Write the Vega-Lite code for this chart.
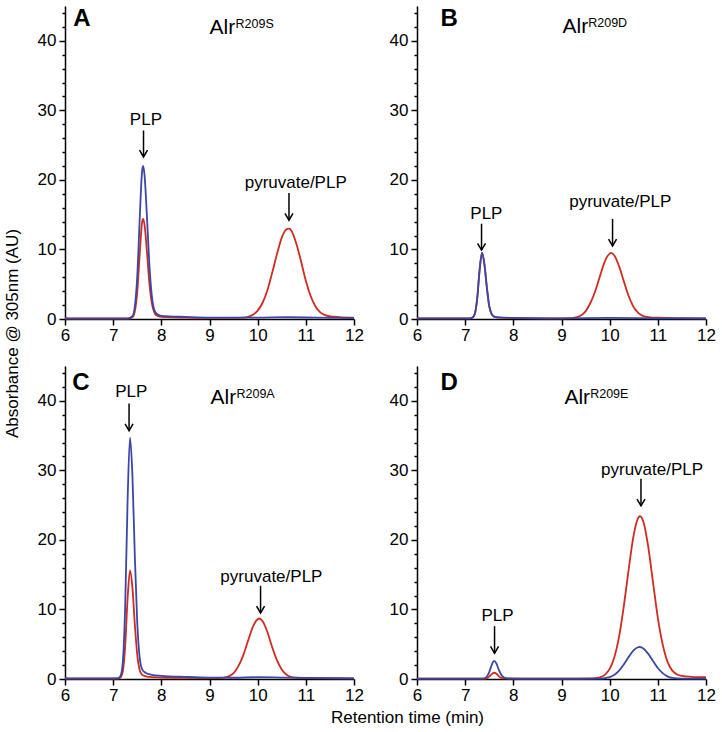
{
  "$schema": "https://vega.github.io/schema/vega-lite/v6.json",
  "background": "white",
  "padding": {"left": 3, "top": 3, "right": 5, "bottom": 5},
  "columns": 2,
  "spacing": {"row": 47, "column": 63},
  "bounds": "flush",
  "data": {"values": [
    {"p":"A","k":"r","t":6.0,"v":0.05},{"p":"A","k":"r","t":7.0,"v":0.05},{"p":"A","k":"r","t":7.3,"v":0.05},{"p":"A","k":"r","t":7.4,"v":0.25},{"p":"A","k":"r","t":7.45,"v":1.1},{"p":"A","k":"r","t":7.5,"v":3.9},{"p":"A","k":"r","t":7.55,"v":9.2},{"p":"A","k":"r","t":7.6,"v":13.9},{"p":"A","k":"r","t":7.62,"v":14.4},{"p":"A","k":"r","t":7.65,"v":13.6},{"p":"A","k":"r","t":7.7,"v":9.8},{"p":"A","k":"r","t":7.75,"v":5.3},{"p":"A","k":"r","t":7.8,"v":2.4},{"p":"A","k":"r","t":7.85,"v":1.0},{"p":"A","k":"r","t":7.9,"v":0.5},{"p":"A","k":"r","t":8.0,"v":0.3},{"p":"A","k":"r","t":8.5,"v":0.2},{"p":"A","k":"r","t":9.0,"v":0.15},{"p":"A","k":"r","t":9.5,"v":0.15},{"p":"A","k":"r","t":9.7,"v":0.2},{"p":"A","k":"r","t":9.8,"v":0.3},{"p":"A","k":"r","t":9.9,"v":0.6},{"p":"A","k":"r","t":10.0,"v":1.2},{"p":"A","k":"r","t":10.1,"v":2.3},{"p":"A","k":"r","t":10.2,"v":4.1},{"p":"A","k":"r","t":10.3,"v":6.6},{"p":"A","k":"r","t":10.4,"v":9.3},{"p":"A","k":"r","t":10.5,"v":11.7},{"p":"A","k":"r","t":10.6,"v":12.9},{"p":"A","k":"r","t":10.65,"v":13.0},{"p":"A","k":"r","t":10.7,"v":12.7},{"p":"A","k":"r","t":10.8,"v":10.9},{"p":"A","k":"r","t":10.9,"v":8.3},{"p":"A","k":"r","t":11.0,"v":5.5},{"p":"A","k":"r","t":11.1,"v":3.3},{"p":"A","k":"r","t":11.2,"v":1.8},{"p":"A","k":"r","t":11.3,"v":0.95},{"p":"A","k":"r","t":11.4,"v":0.55},{"p":"A","k":"r","t":11.5,"v":0.38},{"p":"A","k":"r","t":11.7,"v":0.27},{"p":"A","k":"r","t":12.0,"v":0.2},
    {"p":"A","k":"b","t":6.0,"v":0.1},{"p":"A","k":"b","t":7.0,"v":0.1},{"p":"A","k":"b","t":7.3,"v":0.1},{"p":"A","k":"b","t":7.4,"v":0.4},{"p":"A","k":"b","t":7.45,"v":1.8},{"p":"A","k":"b","t":7.5,"v":6.1},{"p":"A","k":"b","t":7.55,"v":14.2},{"p":"A","k":"b","t":7.6,"v":21.2},{"p":"A","k":"b","t":7.62,"v":22.0},{"p":"A","k":"b","t":7.65,"v":20.8},{"p":"A","k":"b","t":7.7,"v":14.9},{"p":"A","k":"b","t":7.75,"v":8.0},{"p":"A","k":"b","t":7.8,"v":3.5},{"p":"A","k":"b","t":7.85,"v":1.4},{"p":"A","k":"b","t":7.9,"v":0.75},{"p":"A","k":"b","t":8.0,"v":0.45},{"p":"A","k":"b","t":8.5,"v":0.3},{"p":"A","k":"b","t":9.0,"v":0.2},{"p":"A","k":"b","t":10.0,"v":0.2},{"p":"A","k":"b","t":10.6,"v":0.25},{"p":"A","k":"b","t":11.2,"v":0.2},{"p":"A","k":"b","t":12.0,"v":0.12},
    {"p":"B","k":"r","t":6.0,"v":0.1},{"p":"B","k":"r","t":7.0,"v":0.1},{"p":"B","k":"r","t":7.1,"v":0.1},{"p":"B","k":"r","t":7.15,"v":0.2},{"p":"B","k":"r","t":7.2,"v":0.7},{"p":"B","k":"r","t":7.25,"v":2.9},{"p":"B","k":"r","t":7.3,"v":7.0},{"p":"B","k":"r","t":7.35,"v":9.5},{"p":"B","k":"r","t":7.4,"v":7.8},{"p":"B","k":"r","t":7.45,"v":4.5},{"p":"B","k":"r","t":7.5,"v":1.8},{"p":"B","k":"r","t":7.55,"v":0.7},{"p":"B","k":"r","t":7.6,"v":0.35},{"p":"B","k":"r","t":7.7,"v":0.2},{"p":"B","k":"r","t":8.0,"v":0.12},{"p":"B","k":"r","t":9.0,"v":0.1},{"p":"B","k":"r","t":9.2,"v":0.12},{"p":"B","k":"r","t":9.3,"v":0.23},{"p":"B","k":"r","t":9.4,"v":0.5},{"p":"B","k":"r","t":9.5,"v":1.1},{"p":"B","k":"r","t":9.6,"v":2.3},{"p":"B","k":"r","t":9.7,"v":4.0},{"p":"B","k":"r","t":9.8,"v":6.2},{"p":"B","k":"r","t":9.9,"v":8.3},{"p":"B","k":"r","t":10.0,"v":9.4},{"p":"B","k":"r","t":10.03,"v":9.5},{"p":"B","k":"r","t":10.1,"v":9.1},{"p":"B","k":"r","t":10.2,"v":7.5},{"p":"B","k":"r","t":10.3,"v":5.3},{"p":"B","k":"r","t":10.4,"v":3.2},{"p":"B","k":"r","t":10.5,"v":1.7},{"p":"B","k":"r","t":10.6,"v":0.85},{"p":"B","k":"r","t":10.7,"v":0.42},{"p":"B","k":"r","t":10.8,"v":0.28},{"p":"B","k":"r","t":11.0,"v":0.18},{"p":"B","k":"r","t":11.5,"v":0.12},{"p":"B","k":"r","t":12.0,"v":0.1},
    {"p":"B","k":"b","t":6.0,"v":0.08},{"p":"B","k":"b","t":7.0,"v":0.08},{"p":"B","k":"b","t":7.1,"v":0.1},{"p":"B","k":"b","t":7.15,"v":0.2},{"p":"B","k":"b","t":7.2,"v":0.75},{"p":"B","k":"b","t":7.25,"v":3.0},{"p":"B","k":"b","t":7.3,"v":7.1},{"p":"B","k":"b","t":7.35,"v":9.5},{"p":"B","k":"b","t":7.4,"v":7.9},{"p":"B","k":"b","t":7.45,"v":4.6},{"p":"B","k":"b","t":7.5,"v":1.9},{"p":"B","k":"b","t":7.55,"v":0.7},{"p":"B","k":"b","t":7.6,"v":0.35},{"p":"B","k":"b","t":7.7,"v":0.22},{"p":"B","k":"b","t":8.0,"v":0.15},{"p":"B","k":"b","t":9.0,"v":0.1},{"p":"B","k":"b","t":10.0,"v":0.15},{"p":"B","k":"b","t":11.0,"v":0.1},{"p":"B","k":"b","t":12.0,"v":0.08},
    {"p":"C","k":"r","t":6.0,"v":0.05},{"p":"C","k":"r","t":7.0,"v":0.05},{"p":"C","k":"r","t":7.1,"v":0.05},{"p":"C","k":"r","t":7.15,"v":0.2},{"p":"C","k":"r","t":7.2,"v":1.1},{"p":"C","k":"r","t":7.25,"v":4.8},{"p":"C","k":"r","t":7.3,"v":11.6},{"p":"C","k":"r","t":7.35,"v":15.6},{"p":"C","k":"r","t":7.4,"v":13.1},{"p":"C","k":"r","t":7.45,"v":7.8},{"p":"C","k":"r","t":7.5,"v":3.5},{"p":"C","k":"r","t":7.55,"v":1.3},{"p":"C","k":"r","t":7.6,"v":0.6},{"p":"C","k":"r","t":7.65,"v":0.45},{"p":"C","k":"r","t":7.7,"v":0.35},{"p":"C","k":"r","t":7.8,"v":0.28},{"p":"C","k":"r","t":8.0,"v":0.2},{"p":"C","k":"r","t":8.5,"v":0.15},{"p":"C","k":"r","t":9.0,"v":0.12},{"p":"C","k":"r","t":9.2,"v":0.12},{"p":"C","k":"r","t":9.3,"v":0.2},{"p":"C","k":"r","t":9.4,"v":0.38},{"p":"C","k":"r","t":9.5,"v":0.85},{"p":"C","k":"r","t":9.6,"v":1.85},{"p":"C","k":"r","t":9.7,"v":3.4},{"p":"C","k":"r","t":9.8,"v":5.5},{"p":"C","k":"r","t":9.9,"v":7.5},{"p":"C","k":"r","t":10.0,"v":8.6},{"p":"C","k":"r","t":10.03,"v":8.7},{"p":"C","k":"r","t":10.1,"v":8.35},{"p":"C","k":"r","t":10.2,"v":6.8},{"p":"C","k":"r","t":10.3,"v":4.6},{"p":"C","k":"r","t":10.4,"v":2.7},{"p":"C","k":"r","t":10.5,"v":1.35},{"p":"C","k":"r","t":10.6,"v":0.6},{"p":"C","k":"r","t":10.7,"v":0.28},{"p":"C","k":"r","t":10.8,"v":0.18},{"p":"C","k":"r","t":11.0,"v":0.12},{"p":"C","k":"r","t":12.0,"v":0.08},
    {"p":"C","k":"b","t":6.0,"v":0.1},{"p":"C","k":"b","t":7.0,"v":0.1},{"p":"C","k":"b","t":7.1,"v":0.12},{"p":"C","k":"b","t":7.15,"v":0.4},{"p":"C","k":"b","t":7.2,"v":2.4},{"p":"C","k":"b","t":7.25,"v":10.6},{"p":"C","k":"b","t":7.3,"v":25.8},{"p":"C","k":"b","t":7.35,"v":34.7},{"p":"C","k":"b","t":7.4,"v":29.2},{"p":"C","k":"b","t":7.45,"v":17.6},{"p":"C","k":"b","t":7.5,"v":8.1},{"p":"C","k":"b","t":7.55,"v":3.1},{"p":"C","k":"b","t":7.6,"v":1.4},{"p":"C","k":"b","t":7.65,"v":1.0},{"p":"C","k":"b","t":7.7,"v":0.8},{"p":"C","k":"b","t":7.8,"v":0.6},{"p":"C","k":"b","t":8.0,"v":0.45},{"p":"C","k":"b","t":8.5,"v":0.3},{"p":"C","k":"b","t":9.0,"v":0.2},{"p":"C","k":"b","t":9.5,"v":0.18},{"p":"C","k":"b","t":10.0,"v":0.25},{"p":"C","k":"b","t":10.5,"v":0.2},{"p":"C","k":"b","t":11.0,"v":0.15},{"p":"C","k":"b","t":12.0,"v":0.1},
    {"p":"D","k":"r","t":6.0,"v":0.05},{"p":"D","k":"r","t":7.0,"v":0.05},{"p":"D","k":"r","t":7.4,"v":0.05},{"p":"D","k":"r","t":7.45,"v":0.1},{"p":"D","k":"r","t":7.5,"v":0.35},{"p":"D","k":"r","t":7.55,"v":0.7},{"p":"D","k":"r","t":7.6,"v":0.9},{"p":"D","k":"r","t":7.65,"v":0.75},{"p":"D","k":"r","t":7.7,"v":0.4},{"p":"D","k":"r","t":7.75,"v":0.15},{"p":"D","k":"r","t":7.8,"v":0.08},{"p":"D","k":"r","t":8.0,"v":0.05},{"p":"D","k":"r","t":9.0,"v":0.05},{"p":"D","k":"r","t":9.6,"v":0.1},{"p":"D","k":"r","t":9.7,"v":0.12},{"p":"D","k":"r","t":9.8,"v":0.25},{"p":"D","k":"r","t":9.9,"v":0.6},{"p":"D","k":"r","t":10.0,"v":1.45},{"p":"D","k":"r","t":10.1,"v":3.2},{"p":"D","k":"r","t":10.2,"v":6.27},{"p":"D","k":"r","t":10.3,"v":10.8},{"p":"D","k":"r","t":10.4,"v":16.05},{"p":"D","k":"r","t":10.5,"v":20.75},{"p":"D","k":"r","t":10.6,"v":23.25},{"p":"D","k":"r","t":10.63,"v":23.4},{"p":"D","k":"r","t":10.7,"v":22.6},{"p":"D","k":"r","t":10.8,"v":19.05},{"p":"D","k":"r","t":10.9,"v":13.9},{"p":"D","k":"r","t":11.0,"v":8.8},{"p":"D","k":"r","t":11.1,"v":5.0},{"p":"D","k":"r","t":11.2,"v":2.5},{"p":"D","k":"r","t":11.3,"v":1.2},{"p":"D","k":"r","t":11.4,"v":0.65},{"p":"D","k":"r","t":11.5,"v":0.45},{"p":"D","k":"r","t":11.7,"v":0.32},{"p":"D","k":"r","t":12.0,"v":0.25},
    {"p":"D","k":"b","t":6.0,"v":0.05},{"p":"D","k":"b","t":7.0,"v":0.05},{"p":"D","k":"b","t":7.35,"v":0.05},{"p":"D","k":"b","t":7.4,"v":0.1},{"p":"D","k":"b","t":7.45,"v":0.35},{"p":"D","k":"b","t":7.5,"v":1.0},{"p":"D","k":"b","t":7.55,"v":2.0},{"p":"D","k":"b","t":7.6,"v":2.6},{"p":"D","k":"b","t":7.65,"v":2.2},{"p":"D","k":"b","t":7.7,"v":1.3},{"p":"D","k":"b","t":7.75,"v":0.6},{"p":"D","k":"b","t":7.8,"v":0.25},{"p":"D","k":"b","t":7.85,"v":0.12},{"p":"D","k":"b","t":7.9,"v":0.08},{"p":"D","k":"b","t":8.5,"v":0.05},{"p":"D","k":"b","t":9.0,"v":0.05},{"p":"D","k":"b","t":9.8,"v":0.05},{"p":"D","k":"b","t":9.9,"v":0.12},{"p":"D","k":"b","t":10.0,"v":0.28},{"p":"D","k":"b","t":10.1,"v":0.62},{"p":"D","k":"b","t":10.2,"v":1.25},{"p":"D","k":"b","t":10.3,"v":2.16},{"p":"D","k":"b","t":10.4,"v":3.22},{"p":"D","k":"b","t":10.5,"v":4.14},{"p":"D","k":"b","t":10.6,"v":4.59},{"p":"D","k":"b","t":10.62,"v":4.6},{"p":"D","k":"b","t":10.7,"v":4.39},{"p":"D","k":"b","t":10.8,"v":3.62},{"p":"D","k":"b","t":10.9,"v":2.58},{"p":"D","k":"b","t":11.0,"v":1.58},{"p":"D","k":"b","t":11.1,"v":0.84},{"p":"D","k":"b","t":11.2,"v":0.38},{"p":"D","k":"b","t":11.3,"v":0.15},{"p":"D","k":"b","t":11.4,"v":0.08},{"p":"D","k":"b","t":11.6,"v":0.05},{"p":"D","k":"b","t":12.0,"v":0.05},
    {"p":"A","k":"letter","t":6.17,"v":42.1,"label":"A"},{"p":"A","k":"title","t":9.0,"v":40.95,"label":"Alr"},{"p":"A","k":"sup","t":9.54,"v":41.9,"label":"R209S"},
    {"p":"A","k":"label","t":7.68,"v":27.9,"label":"PLP"},{"p":"A","k":"arrow","t":7.63,"v":23.3,"v2":27.1},
    {"p":"A","k":"label","t":10.79,"v":18.8,"label":"pyruvate/PLP"},{"p":"A","k":"arrow","t":10.65,"v":14.2,"v2":18.1},
    {"p":"B","k":"letter","t":6.49,"v":42.1,"label":"B"},{"p":"B","k":"title","t":9.02,"v":41.05,"label":"Alr"},{"p":"B","k":"sup","t":9.555,"v":42.0,"label":"R209D"},
    {"p":"B","k":"label","t":7.44,"v":14.4,"label":"PLP"},{"p":"B","k":"arrow","t":7.34,"v":9.9,"v2":13.7},
    {"p":"B","k":"label","t":10.22,"v":16.1,"label":"pyruvate/PLP"},{"p":"B","k":"arrow","t":10.06,"v":10.5,"v2":14.4},
    {"p":"C","k":"letter","t":6.15,"v":41.6,"label":"C"},{"p":"C","k":"title","t":9.02,"v":39.5,"label":"Alr"},{"p":"C","k":"sup","t":9.56,"v":40.45,"label":"R209A"},
    {"p":"C","k":"label","t":7.375,"v":40.5,"label":"PLP"},{"p":"C","k":"arrow","t":7.33,"v":35.7,"v2":39.6},
    {"p":"C","k":"label","t":10.285,"v":13.9,"label":"pyruvate/PLP"},{"p":"C","k":"arrow","t":10.06,"v":9.5,"v2":13.4},
    {"p":"D","k":"letter","t":6.49,"v":41.6,"label":"D"},{"p":"D","k":"title","t":9.06,"v":39.5,"label":"Alr"},{"p":"D","k":"sup","t":9.595,"v":40.45,"label":"R209E"},
    {"p":"D","k":"label","t":7.67,"v":8.3,"label":"PLP"},{"p":"D","k":"arrow","t":7.61,"v":3.7,"v2":7.6},
    {"p":"D","k":"label","t":10.88,"v":29.4,"label":"pyruvate/PLP"},{"p":"D","k":"arrow","t":10.65,"v":24.9,"v2":28.8}
  ]},
  "concat": [
    {
      "width": 289, "height": 313,
      "transform": [{"filter": "datum.p === 'A'"}],
      "encoding": {
        "x": {"field": "t", "type": "quantitative", "scale": {"domain": [6, 12], "nice": false, "zero": false},
              "axis": {"values": [6,7,8,9,10,11,12], "tickSize": 6, "labelPadding": 2, "labelFlush": false, "labelOverlap": false, "title": null}},
        "y": {"field": "v", "type": "quantitative", "scale": {"domain": [0, 45], "nice": false},
              "axis": {"values": [0,2,4,6,8,10,12,14,16,18,20,22,24,26,28,30,32,34,36,38,40,42,44],
                       "labelExpr": "datum.value % 10 === 0 ? datum.label : ''",
                       "tickSize": {"condition": {"test": "datum.value % 10 === 0", "value": 6}, "value": 3},
                       "labelPadding": 3, "labelFlush": false, "labelOverlap": false,
                       "title": "Absorbance @ 305nm (AU)", "titleX": -48, "titleY": 327, "titleAngle": 270, "titleAlign": "center", "titleBaseline": "alphabetic"}}
      },
      "layer": [
        {"transform": [{"filter": "datum.k === 'r'"}], "mark": {"type": "line", "color": "#d12a20", "strokeWidth": 1.8, "interpolate": "monotone"}},
        {"transform": [{"filter": "datum.k === 'b'"}], "mark": {"type": "line", "color": "#3a46a8", "strokeWidth": 1.8, "interpolate": "monotone"}},
        {"transform": [{"filter": "datum.k === 'arrow'"}], "mark": {"type": "rule", "color": "black", "strokeWidth": 1.5}, "encoding": {"y2": {"field": "v2"}}},
        {"transform": [{"filter": "datum.k === 'arrow'"}], "mark": {"type": "point", "shape": "M-1,-1.7L0,0L1,-1.7", "size": 64, "filled": false, "color": "black", "strokeWidth": 1.5, "opacity": 1}},
        {"transform": [{"filter": "datum.k === 'label'"}], "mark": {"type": "text", "fontSize": 17, "align": "center", "baseline": "alphabetic"}, "encoding": {"text": {"field": "label"}}},
        {"transform": [{"filter": "datum.k === 'letter'"}], "mark": {"type": "text", "fontSize": 24, "fontWeight": "bold", "align": "left", "baseline": "alphabetic"}, "encoding": {"text": {"field": "label"}}},
        {"transform": [{"filter": "datum.k === 'title'"}], "mark": {"type": "text", "fontSize": 21, "align": "left", "baseline": "alphabetic"}, "encoding": {"text": {"field": "label"}}},
        {"transform": [{"filter": "datum.k === 'sup'"}], "mark": {"type": "text", "fontSize": 12.5, "align": "left", "baseline": "alphabetic"}, "encoding": {"text": {"field": "label"}}}
      ]
    },
    {
      "width": 289, "height": 313,
      "transform": [{"filter": "datum.p === 'B'"}],
      "encoding": {
        "x": {"field": "t", "type": "quantitative", "scale": {"domain": [6, 12], "nice": false, "zero": false},
              "axis": {"values": [6,7,8,9,10,11,12], "tickSize": 6, "labelPadding": 2, "labelFlush": false, "labelOverlap": false, "title": null}},
        "y": {"field": "v", "type": "quantitative", "scale": {"domain": [0, 45], "nice": false},
              "axis": {"values": [0,2,4,6,8,10,12,14,16,18,20,22,24,26,28,30,32,34,36,38,40,42,44],
                       "labelExpr": "datum.value % 10 === 0 ? datum.label : ''",
                       "tickSize": {"condition": {"test": "datum.value % 10 === 0", "value": 6}, "value": 3},
                       "labelPadding": 3, "labelFlush": false, "labelOverlap": false, "title": null}}
      },
      "layer": [
        {"transform": [{"filter": "datum.k === 'r'"}], "mark": {"type": "line", "color": "#d12a20", "strokeWidth": 1.8, "interpolate": "monotone"}},
        {"transform": [{"filter": "datum.k === 'b'"}], "mark": {"type": "line", "color": "#3a46a8", "strokeWidth": 1.8, "interpolate": "monotone"}},
        {"transform": [{"filter": "datum.k === 'arrow'"}], "mark": {"type": "rule", "color": "black", "strokeWidth": 1.5}, "encoding": {"y2": {"field": "v2"}}},
        {"transform": [{"filter": "datum.k === 'arrow'"}], "mark": {"type": "point", "shape": "M-1,-1.7L0,0L1,-1.7", "size": 64, "filled": false, "color": "black", "strokeWidth": 1.5, "opacity": 1}},
        {"transform": [{"filter": "datum.k === 'label'"}], "mark": {"type": "text", "fontSize": 17, "align": "center", "baseline": "alphabetic"}, "encoding": {"text": {"field": "label"}}},
        {"transform": [{"filter": "datum.k === 'letter'"}], "mark": {"type": "text", "fontSize": 24, "fontWeight": "bold", "align": "left", "baseline": "alphabetic"}, "encoding": {"text": {"field": "label"}}},
        {"transform": [{"filter": "datum.k === 'title'"}], "mark": {"type": "text", "fontSize": 21, "align": "left", "baseline": "alphabetic"}, "encoding": {"text": {"field": "label"}}},
        {"transform": [{"filter": "datum.k === 'sup'"}], "mark": {"type": "text", "fontSize": 12.5, "align": "left", "baseline": "alphabetic"}, "encoding": {"text": {"field": "label"}}}
      ]
    },
    {
      "width": 289, "height": 313,
      "transform": [{"filter": "datum.p === 'C'"}],
      "encoding": {
        "x": {"field": "t", "type": "quantitative", "scale": {"domain": [6, 12], "nice": false, "zero": false},
              "axis": {"values": [6,7,8,9,10,11,12], "tickSize": 6, "labelPadding": 2, "labelFlush": false, "labelOverlap": false,
                       "title": "Retention time (min)", "titleX": 342, "titleY": 43, "titleAlign": "center", "titleBaseline": "alphabetic"}},
        "y": {"field": "v", "type": "quantitative", "scale": {"domain": [0, 45], "nice": false},
              "axis": {"values": [0,2,4,6,8,10,12,14,16,18,20,22,24,26,28,30,32,34,36,38,40,42,44],
                       "labelExpr": "datum.value % 10 === 0 ? datum.label : ''",
                       "tickSize": {"condition": {"test": "datum.value % 10 === 0", "value": 6}, "value": 3},
                       "labelPadding": 3, "labelFlush": false, "labelOverlap": false, "title": null}}
      },
      "layer": [
        {"transform": [{"filter": "datum.k === 'r'"}], "mark": {"type": "line", "color": "#d12a20", "strokeWidth": 1.8, "interpolate": "monotone"}},
        {"transform": [{"filter": "datum.k === 'b'"}], "mark": {"type": "line", "color": "#3a46a8", "strokeWidth": 1.8, "interpolate": "monotone"}},
        {"transform": [{"filter": "datum.k === 'arrow'"}], "mark": {"type": "rule", "color": "black", "strokeWidth": 1.5}, "encoding": {"y2": {"field": "v2"}}},
        {"transform": [{"filter": "datum.k === 'arrow'"}], "mark": {"type": "point", "shape": "M-1,-1.7L0,0L1,-1.7", "size": 64, "filled": false, "color": "black", "strokeWidth": 1.5, "opacity": 1}},
        {"transform": [{"filter": "datum.k === 'label'"}], "mark": {"type": "text", "fontSize": 17, "align": "center", "baseline": "alphabetic"}, "encoding": {"text": {"field": "label"}}},
        {"transform": [{"filter": "datum.k === 'letter'"}], "mark": {"type": "text", "fontSize": 24, "fontWeight": "bold", "align": "left", "baseline": "alphabetic"}, "encoding": {"text": {"field": "label"}}},
        {"transform": [{"filter": "datum.k === 'title'"}], "mark": {"type": "text", "fontSize": 21, "align": "left", "baseline": "alphabetic"}, "encoding": {"text": {"field": "label"}}},
        {"transform": [{"filter": "datum.k === 'sup'"}], "mark": {"type": "text", "fontSize": 12.5, "align": "left", "baseline": "alphabetic"}, "encoding": {"text": {"field": "label"}}}
      ]
    },
    {
      "width": 289, "height": 313,
      "transform": [{"filter": "datum.p === 'D'"}],
      "encoding": {
        "x": {"field": "t", "type": "quantitative", "scale": {"domain": [6, 12], "nice": false, "zero": false},
              "axis": {"values": [6,7,8,9,10,11,12], "tickSize": 6, "labelPadding": 2, "labelFlush": false, "labelOverlap": false, "title": null}},
        "y": {"field": "v", "type": "quantitative", "scale": {"domain": [0, 45], "nice": false},
              "axis": {"values": [0,2,4,6,8,10,12,14,16,18,20,22,24,26,28,30,32,34,36,38,40,42,44],
                       "labelExpr": "datum.value % 10 === 0 ? datum.label : ''",
                       "tickSize": {"condition": {"test": "datum.value % 10 === 0", "value": 6}, "value": 3},
                       "labelPadding": 3, "labelFlush": false, "labelOverlap": false, "title": null}}
      },
      "layer": [
        {"transform": [{"filter": "datum.k === 'r'"}], "mark": {"type": "line", "color": "#d12a20", "strokeWidth": 1.8, "interpolate": "monotone"}},
        {"transform": [{"filter": "datum.k === 'b'"}], "mark": {"type": "line", "color": "#3a46a8", "strokeWidth": 1.8, "interpolate": "monotone"}},
        {"transform": [{"filter": "datum.k === 'arrow'"}], "mark": {"type": "rule", "color": "black", "strokeWidth": 1.5}, "encoding": {"y2": {"field": "v2"}}},
        {"transform": [{"filter": "datum.k === 'arrow'"}], "mark": {"type": "point", "shape": "M-1,-1.7L0,0L1,-1.7", "size": 64, "filled": false, "color": "black", "strokeWidth": 1.5, "opacity": 1}},
        {"transform": [{"filter": "datum.k === 'label'"}], "mark": {"type": "text", "fontSize": 17, "align": "center", "baseline": "alphabetic"}, "encoding": {"text": {"field": "label"}}},
        {"transform": [{"filter": "datum.k === 'letter'"}], "mark": {"type": "text", "fontSize": 24, "fontWeight": "bold", "align": "left", "baseline": "alphabetic"}, "encoding": {"text": {"field": "label"}}},
        {"transform": [{"filter": "datum.k === 'title'"}], "mark": {"type": "text", "fontSize": 21, "align": "left", "baseline": "alphabetic"}, "encoding": {"text": {"field": "label"}}},
        {"transform": [{"filter": "datum.k === 'sup'"}], "mark": {"type": "text", "fontSize": 12.5, "align": "left", "baseline": "alphabetic"}, "encoding": {"text": {"field": "label"}}}
      ]
    }
  ],
  "config": {
    "view": {"stroke": null},
    "font": "Liberation Sans",
    "axis": {"domainColor": "black", "domainWidth": 1.5, "tickColor": "black", "tickWidth": 1.5, "labelColor": "black",
             "labelFont": "Liberation Sans", "labelFontSize": 17, "titleFont": "Liberation Sans", "titleFontSize": 17,
             "titleFontWeight": "normal", "titleColor": "black", "grid": false},
    "text": {"font": "Liberation Sans", "color": "black"}
  }
}
